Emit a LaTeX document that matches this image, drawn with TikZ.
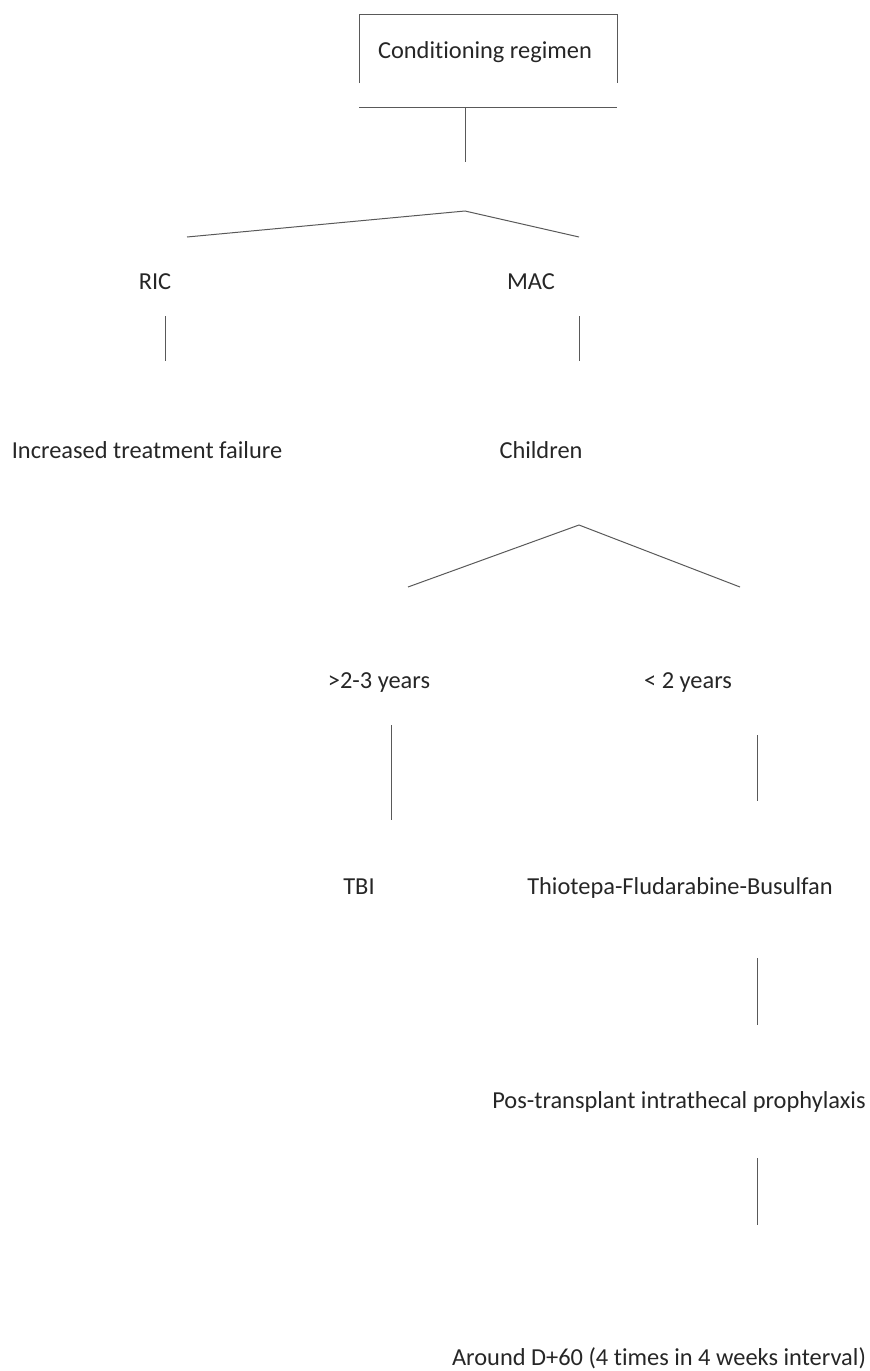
\documentclass[tikz,border=0pt]{standalone}
\usepackage{fontspec}
\setmainfont{Carlito}[Ligatures=NoCommon]
\usetikzlibrary{positioning}

\begin{document}
\begin{tikzpicture}[
  x=1pt, y=-1pt,
  font=\fontsize{24.4}{28}\selectfont,
  lbl/.style={text=black!85, inner sep=0pt, anchor=base},
  link/.style={draw=black!65, line width=1pt},
]
\useasboundingbox (0,0) rectangle (870,1371);

%% --- racine (cadre ouvert) ---
\node[lbl] (root) at (485,58) {Conditioning regimen};
\coordinate (boxSW) at (359,83);  \coordinate (boxNW) at (359,14);
\coordinate (boxNE) at (617,14);  \coordinate (boxSE) at (617,83);
\coordinate (barW)  at (359,107); \coordinate (barE)  at (617,107);
\coordinate (rootT) at (465,107); \coordinate (rootB) at (465,162);
\draw[link] (boxSW) -- (boxNW) -- (boxNE) -- (boxSE);
\draw[link] (barW) -- (barE);
\draw[link] (rootT) -- (rootB);

%% --- niveau 1 : RIC / MAC ---
\node[lbl] (ric) at (155,289) {RIC};
\node[lbl] (mac) at (531,289) {MAC};
\coordinate (fork1)  at (465,211);
\coordinate (fork1L) at (187,237);
\coordinate (fork1R) at (579,237);
\draw[link] (fork1L) -- (fork1) -- (fork1R);
\coordinate (ricT) at (165,316); \coordinate (ricB) at (165,361);
\coordinate (macT) at (579,316); \coordinate (macB) at (579,361);
\draw[link] (ricT) -- (ricB);
\draw[link] (macT) -- (macB);

%% --- niveau 2 ---
\node[lbl] (fail) at (147,458) {Increased treatment failure};
\node[lbl] (kids) at (541,458) {Children};
\coordinate (fork2)  at (579,525);
\coordinate (fork2L) at (408,587);
\coordinate (fork2R) at (740,587);
\draw[link] (fork2L) -- (fork2) -- (fork2R);

%% --- niveau 3 : tranches d'age ---
\node[lbl] (older)   at (379,688) {>2-3 years};
\node[lbl] (younger) at (688,688) {< 2 years};
\coordinate (olderT) at (391,725);   \coordinate (olderB) at (391,820);
\coordinate (youngT) at (757,735);   \coordinate (youngB) at (757,801);
\draw[link] (olderT) -- (olderB);
\draw[link] (youngT) -- (youngB);

%% --- niveau 4 ---
\node[lbl] (tbi)  at (359,894) {TBI};
\node[lbl] (tfb)  at (680,894) {Thiotepa-Fludarabine-Busulfan};
\coordinate (tfbT) at (757,958);  \coordinate (tfbB) at (757,1025);
\draw[link] (tfbT) -- (tfbB);

%% --- niveau 5 et 6 ---
\node[lbl] (proph) at (679,1108) {Pos-transplant intrathecal prophylaxis};
\coordinate (prophT) at (757,1158); \coordinate (prophB) at (757,1225);
\draw[link] (prophT) -- (prophB);
\node[lbl] (d60) at (659,1365) {Around D+60 (4 times in 4 weeks interval)};
\end{tikzpicture}
\end{document}
